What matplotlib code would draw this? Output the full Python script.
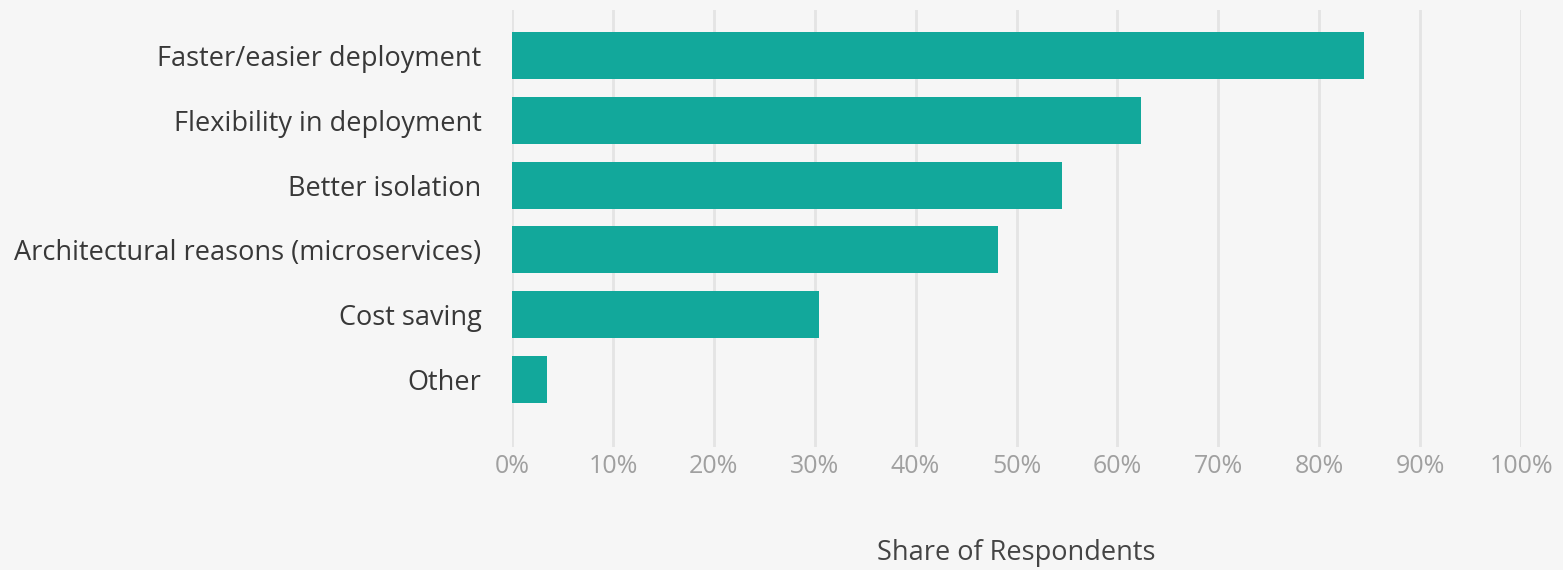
import matplotlib
matplotlib.use('Agg')
import matplotlib.pyplot as plt
import numpy as np

categories = ['Faster/easier deployment', 'Flexibility in deployment', 'Better isolation',
              'Architectural reasons (microservices)', 'Cost saving', 'Other']
shares = [84.4, 62.3, 54.5, 48.2, 30.4, 3.5]
ticks = [0, 10, 20, 30, 40, 50, 60, 70, 80, 90, 100]

plt.rcParams['font.family'] = ['Open Sans', 'DejaVu Sans']

bg = '#f6f6f6'
fig = plt.figure(figsize=(15.63, 5.70), dpi=100, facecolor=bg)
# axes box in pixel terms: x 512..1521, y 10..447 (from top)
ax = fig.add_axes([512/1563, 1 - 447/570, (1521-512)/1563, (447-10)/570])
ax.set_facecolor(bg)

y = np.arange(len(categories))
ax.barh(y, shares, height=0.73, color='#12a89b', zorder=3)

ax.set_xlim(0, 100)
ax.set_ylim(6.05, -0.71)
ax.set_yticks(y)
ax.set_yticklabels(categories, fontsize=19.5, color='#383838')
ax.set_xticks(ticks)
ax.set_xticklabels([f'{t}%' for t in ticks], fontsize=18, color='#a0a0a0')
ax.tick_params(axis='both', length=0)
ax.tick_params(axis='y', pad=22)
ax.tick_params(axis='x', pad=5)
ax.grid(axis='x', color='#e4e4e4', linewidth=2, zorder=0)
for s in ax.spines.values():
    s.set_visible(False)

ax.set_xlabel('Share of Respondents', fontsize=19.5, color='#444444', labelpad=43)

fig.savefig('out.png', dpi=100, facecolor=bg)
